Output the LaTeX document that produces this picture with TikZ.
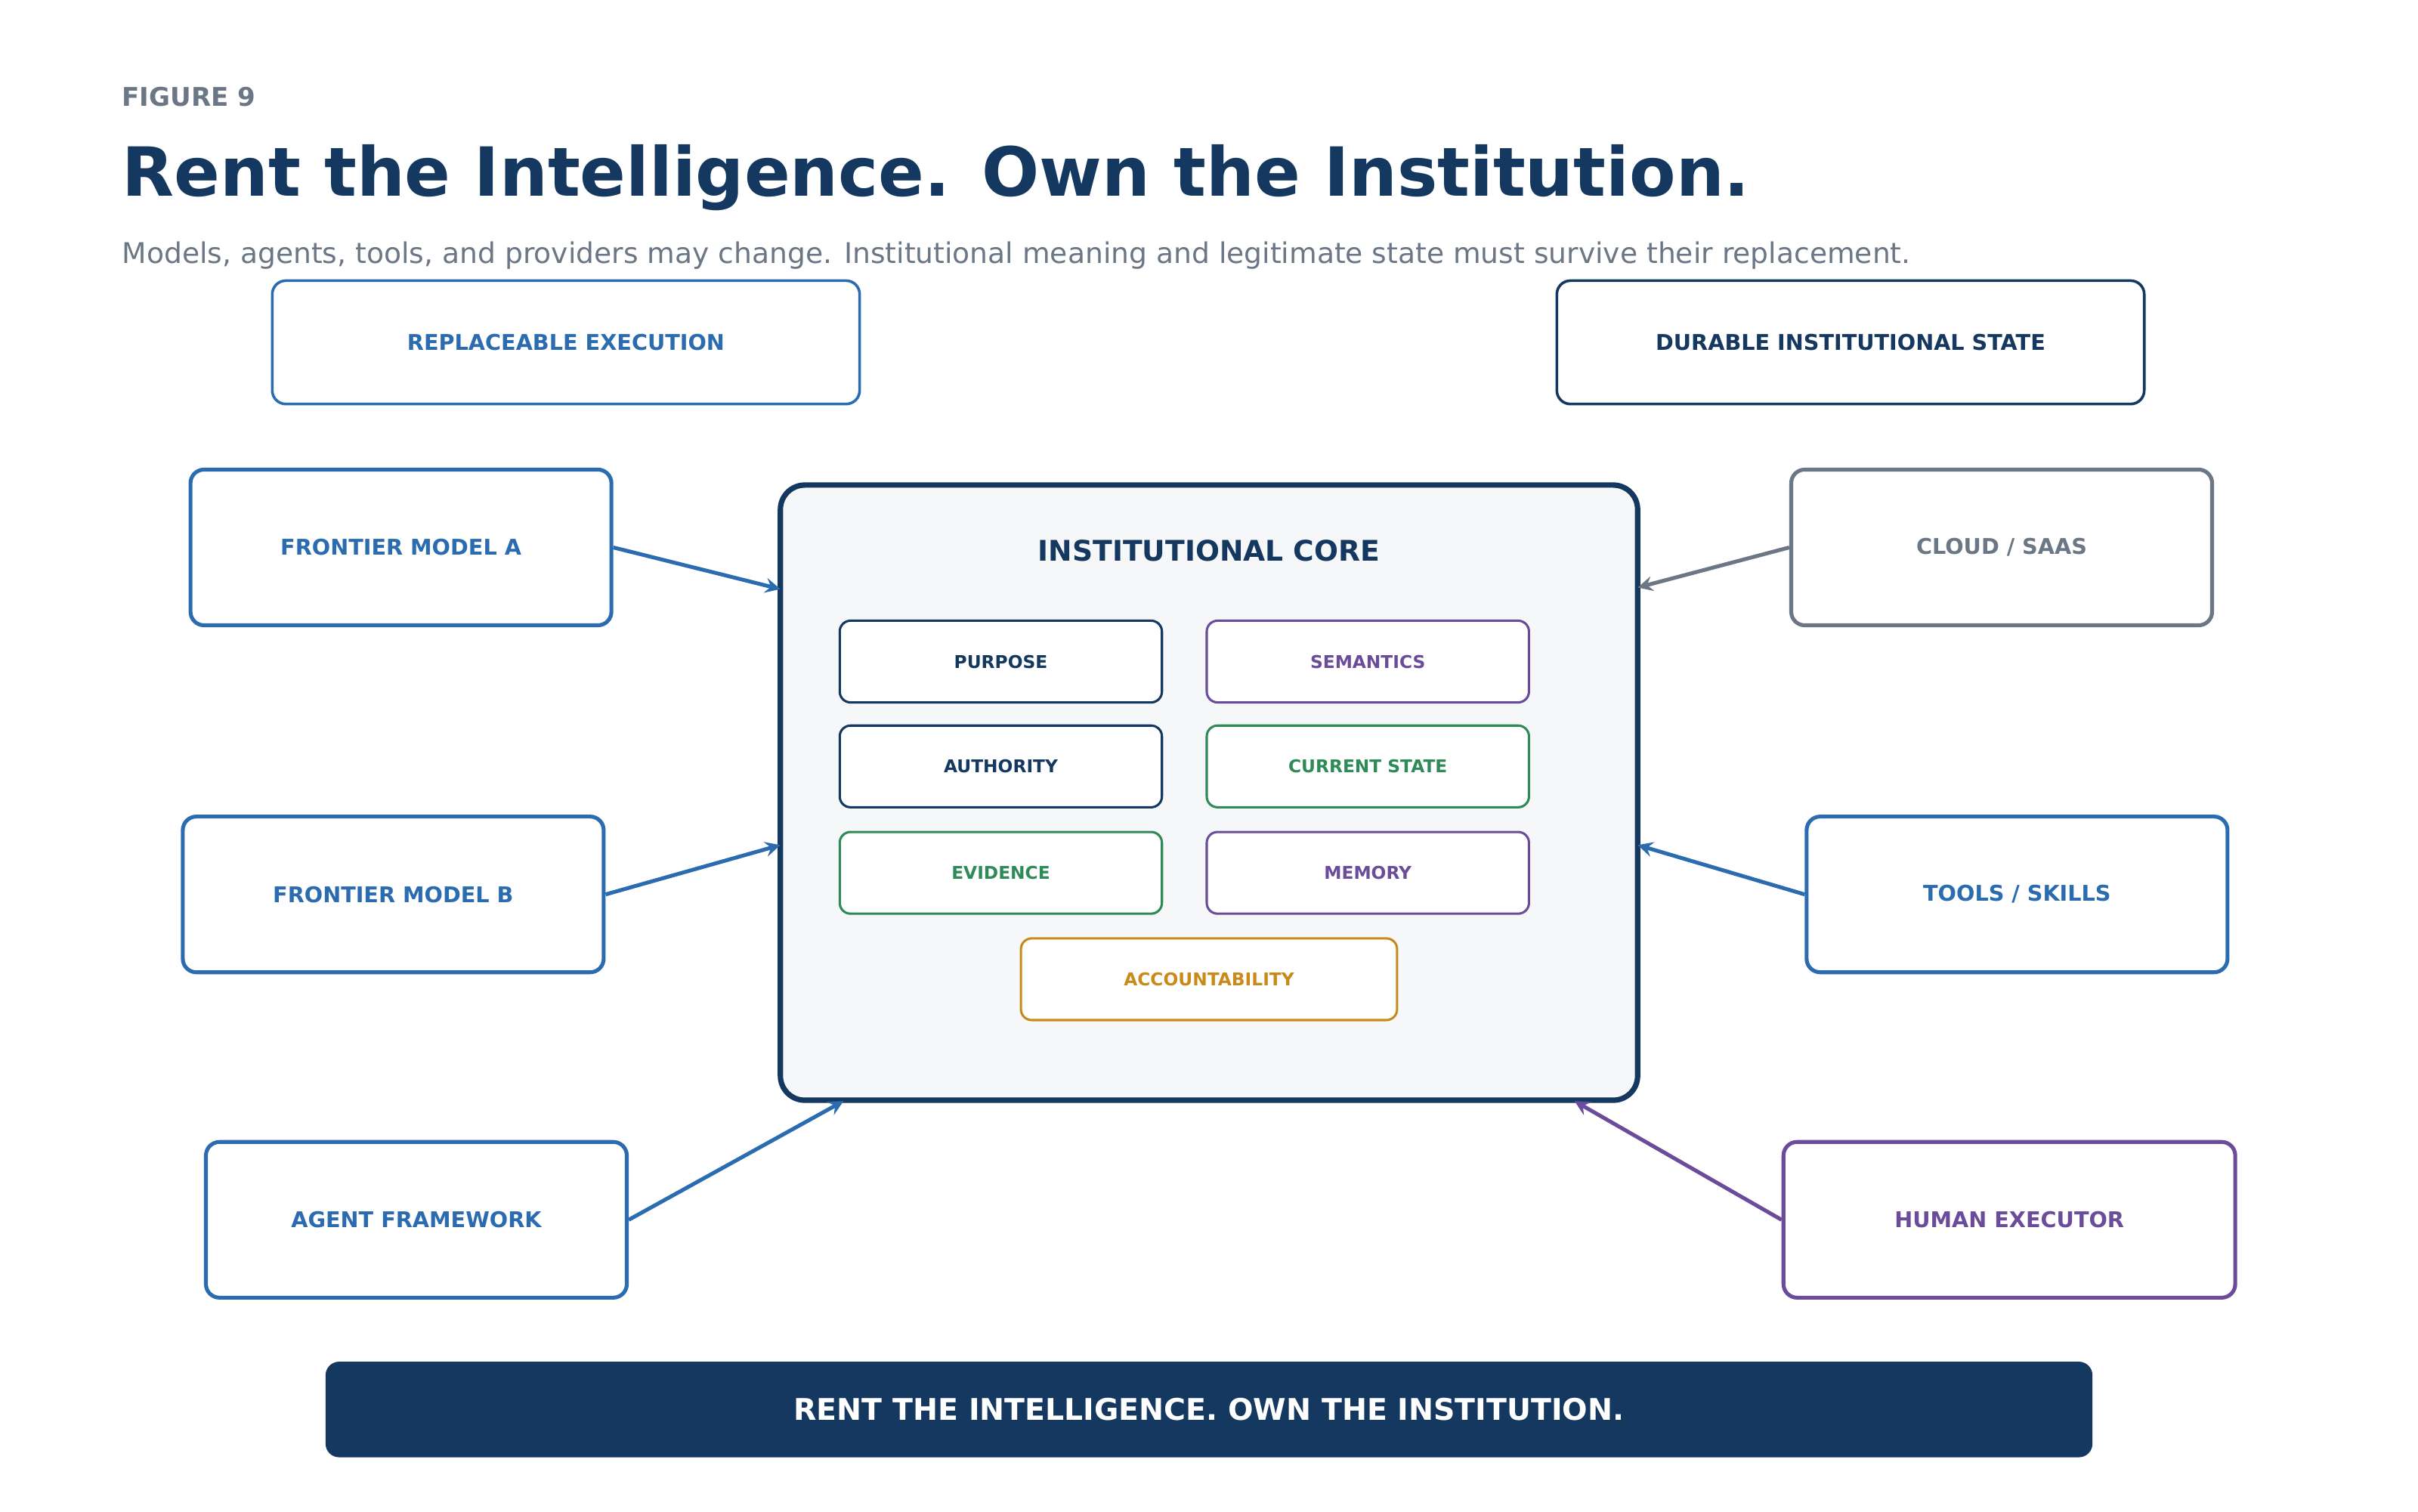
\documentclass[tikz,border=0pt]{standalone}
\usepackage{fontspec}
\setmainfont{DejaVu Sans}
\usetikzlibrary{positioning}
\definecolor{navy}{HTML}{14385F}
\definecolor{blue}{HTML}{2B6CB0}
\definecolor{slate}{HTML}{6B7785}
\definecolor{violet}{HTML}{6B4C9A}
\definecolor{green}{HTML}{2E8B57}
\definecolor{amber}{HTML}{C98A1A}
\tikzset{
	every block/.style={draw, rounded corners=5pt, line width=0.5mm, fill=white,
		font=\fontsize{8pt}{9pt}\selectfont\bfseries},
	block inner/.style={draw, rounded corners=4pt, line width=0.3mm, fill=white,
		minimum width=4.18cm, minimum height=1.06cm, font=\fontsize{6.5pt}{8pt}\selectfont\bfseries},
	feed/.style={->, >=stealth, line width=0.5mm},
}
\begin{document}
\begin{tikzpicture}[x=0.02cm, y=-0.02cm]
	\useasboundingbox (0,0) rectangle (1568,980);

	% Heading
	\node [anchor=base west, text=slate, font=\fontsize{9.5pt}{11pt}\selectfont\bfseries] (fig) at (73,69) {FIGURE 9};
	\node [anchor=base west, text=navy, font=\fontsize{25pt}{30pt}\selectfont\bfseries] (title) at (73,127)
		{Rent the Intelligence. Own the Institution.};
	\node [anchor=base west, text=slate, font=\fontsize{10.5pt}{12pt}\selectfont] (sub) at (73,171)
		{Models, agents, tools, and providers may change. Institutional meaning and legitimate state must survive their replacement.};

	% Column headers
	\node [every block, draw=blue, text=blue, line width=0.35mm, minimum width=7.62cm, minimum height=1.6cm] (repl) at (367,222) {REPLACEABLE EXECUTION};
	\node [every block, draw=navy, text=navy, line width=0.35mm, minimum width=7.62cm, minimum height=1.6cm] (dura) at (1200,222) {DURABLE INSTITUTIONAL STATE};

	% Core
	\node [every block, draw=navy, fill=navy!4, line width=0.7mm, rounded corners=9pt, minimum width=11.12cm, minimum height=7.98cm] (core) at (784,514) {};
	\node [text=navy, font=\fontsize{10.5pt}{12pt}\selectfont\bfseries] (coret) at (784,357) {INSTITUTIONAL CORE};
	\node [block inner, draw=navy, text=navy] (purpose) at (649,429) {PURPOSE};
	\node [block inner, draw=violet, text=violet] (sem) at (887,429) {SEMANTICS};
	\node [block inner, draw=navy, text=navy] (auth) at (649,497) {AUTHORITY};
	\node [block inner, draw=green, text=green] (state) at (887,497) {CURRENT STATE};
	\node [block inner, draw=green, text=green] (evid) at (649,566) {EVIDENCE};
	\node [block inner, draw=violet, text=violet] (mem) at (887,566) {MEMORY};
	\node [block inner, draw=amber, text=amber, minimum width=4.88cm] (acc) at (784,635) {ACCOUNTABILITY};

	% Replaceable side
	\node [every block, draw=blue, text=blue, minimum width=5.46cm, minimum height=2.02cm] (fma) at (260,355) {FRONTIER MODEL A};
	\node [every block, draw=blue, text=blue, minimum width=5.46cm, minimum height=2.02cm] (fmb) at (255,580) {FRONTIER MODEL B};
	\node [every block, draw=blue, text=blue, minimum width=5.46cm, minimum height=2.02cm] (agent) at (270,791) {AGENT FRAMEWORK};
	\node [every block, draw=slate, text=slate, minimum width=5.46cm, minimum height=2.02cm] (cloud) at (1298,355) {CLOUD / SAAS};
	\node [every block, draw=blue, text=blue, minimum width=5.46cm, minimum height=2.02cm] (tools) at (1308,580) {TOOLS / SKILLS};
	\node [every block, draw=violet, text=violet, minimum width=5.86cm, minimum height=2.02cm] (human) at (1303,791) {HUMAN EXECUTOR};

	% Entry points on the core
	\coordinate (in-a) at (506,382);
	\coordinate (in-b) at (506,548);
	\coordinate (in-c) at (547,714);
	\coordinate (in-d) at (1062,381);
	\coordinate (in-e) at (1062,548);
	\coordinate (in-f) at (1021,714);

	\draw [feed, blue] (fma.east) -- (in-a);
	\draw [feed, blue] (fmb.east) -- (in-b);
	\draw [feed, blue] (agent.east) -- (in-c);
	\draw [feed, slate] (cloud.west) -- (in-d);
	\draw [feed, blue] (tools.west) -- (in-e);
	\draw [feed, violet] (human.west) -- (in-f);

	% Banner
	\node [fill=navy, rounded corners=5pt, text=white, minimum width=22.92cm, minimum height=1.24cm,
		font=\fontsize{11pt}{13pt}\selectfont\bfseries] (banner) at (784,914) {RENT THE INTELLIGENCE. OWN THE INSTITUTION.};
\end{tikzpicture}
\end{document}
